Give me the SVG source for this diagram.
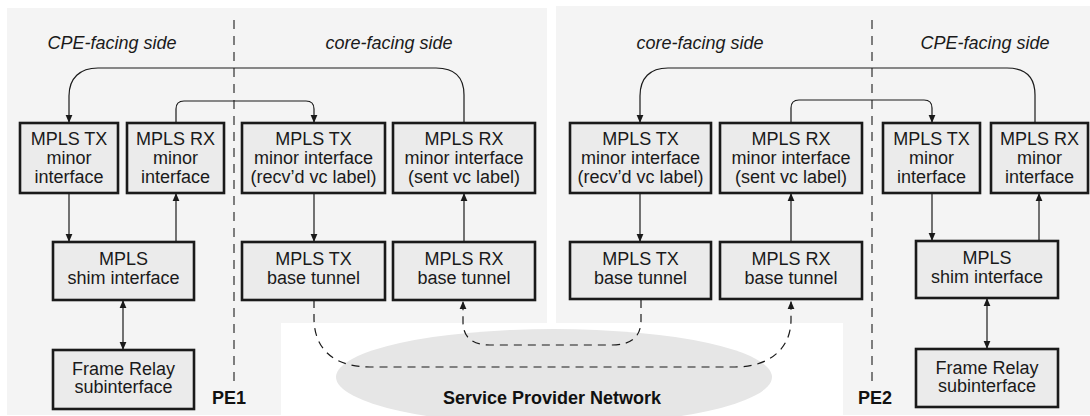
<svg xmlns="http://www.w3.org/2000/svg" width="1090" height="416" viewBox="0 0 1090 416">
<style>
.bg{fill:#f4f4f4}
.box{fill:#ebebeb;stroke:#1a1a1a;stroke-width:2.6}
.t{font-family:"Liberation Sans",Arial,sans-serif;font-size:18px;fill:#1a1a1a;text-anchor:middle}
.side{font-family:"Liberation Sans",Arial,sans-serif;font-size:18px;font-style:italic;fill:#1a1a1a;text-anchor:middle}
.b{font-family:"Liberation Sans",Arial,sans-serif;font-size:18px;font-weight:bold;fill:#111;text-anchor:middle}
.c{fill:none;stroke:#1a1a1a;stroke-width:1.2}
.d{fill:none;stroke:#1a1a1a;stroke-width:1.2;stroke-dasharray:8 6}
.div{fill:none;stroke:#555;stroke-width:1.5;stroke-dasharray:9 7}
</style>
<defs>
<marker id="ah" viewBox="0 0 10 10" refX="10" refY="5" markerWidth="8" markerHeight="8" markerUnits="userSpaceOnUse" orient="auto-start-reverse">
<path d="M0,0.8 L10,5 L0,9.2 Z" fill="#1a1a1a"/>
</marker>
</defs>
<g id="background">
<rect class="bg" x="7" y="8" width="540" height="407"/>
<rect class="bg" x="556" y="6" width="534" height="409"/>
<rect x="281" y="323" width="562" height="93" fill="#ffffff"/>
<ellipse cx="554" cy="377" rx="218" ry="48" fill="#e6e6e6"/>
<line class="div" x1="234" y1="20" x2="234" y2="382"/>
<line class="div" x1="872" y1="20" x2="872" y2="382"/>
<text class="side" x="112" y="49">CPE-facing side</text>
<text class="side" x="389" y="49">core-facing side</text>
<text class="side" x="700" y="49">core-facing side</text>
<text class="side" x="985" y="49">CPE-facing side</text>
<text class="b" x="229" y="404">PE1</text>
<text class="b" x="875" y="404">PE2</text>
<text class="b" x="552" y="404">Service Provider Network</text>
</g>
<g id="connectors">
<path class="c" d="M464,123 L464,95 C464,77 454,68 436,68 L98,68 C80,68 69,78 69,96 L69,123" marker-end="url(#ah)"/>
<path class="c" d="M176,123 L176,109 C176,104 179,101 184,101 L306,101 C311,101 314,104 314,109 L314,123" marker-end="url(#ah)"/>
<path class="c" d="M69,193 L69,242" marker-end="url(#ah)"/>
<path class="c" d="M176,242 L176,193" marker-end="url(#ah)"/>
<path class="c" d="M314,193 L314,242" marker-end="url(#ah)"/>
<path class="c" d="M464,242 L464,193" marker-end="url(#ah)"/>
<path class="c" d="M123,300 L123,350" marker-start="url(#ah)" marker-end="url(#ah)"/>
<path class="c" d="M1035,123 L1035,95 C1035,77 1025,68 1007,68 L668,68 C650,68 640,78 640,96 L640,123" marker-end="url(#ah)"/>
<path class="c" d="M791,123 L791,108 C791,103 794,100 799,100 L924,100 C929,100 932,103 932,108 L932,123" marker-end="url(#ah)"/>
<path class="c" d="M640,193 L640,242" marker-end="url(#ah)"/>
<path class="c" d="M791,242 L791,193" marker-end="url(#ah)"/>
<path class="c" d="M932,193 L932,241" marker-end="url(#ah)"/>
<path class="c" d="M1039,241 L1039,193" marker-end="url(#ah)"/>
<path class="c" d="M987,298 L987,349" marker-start="url(#ah)" marker-end="url(#ah)"/>
<path class="d" d="M314,300 L314,318 C314,350 335,367 370,367 L735,367 C770,367 791,348 791,320 L791,301" marker-end="url(#ah)"/>
<path class="d" d="M641,300 L641,320 C641,338 630,345 612,345 L490,345 C472,345 463,337 463,322 L463,301" marker-end="url(#ah)"/>
</g>
<g id="pe1-tx-minor"><rect class="box" x="20" y="123" width="98" height="70"/><text class="t" x="69" y="145">MPLS TX</text><text class="t" x="69" y="164">minor</text><text class="t" x="69" y="183">interface</text></g>
<g id="pe1-rx-minor"><rect class="box" x="127" y="123" width="97" height="70"/><text class="t" x="175.5" y="145">MPLS RX</text><text class="t" x="175.5" y="164">minor</text><text class="t" x="175.5" y="183">interface</text></g>
<g id="pe1-tx-minor-core"><rect class="box" x="242" y="123" width="143" height="70"/><text class="t" x="313.5" y="145">MPLS TX</text><text class="t" x="313.5" y="164">minor interface</text><text class="t" x="313.5" y="183">(recv’d vc label)</text></g>
<g id="pe1-rx-minor-core"><rect class="box" x="393" y="123" width="142" height="70"/><text class="t" x="464" y="145">MPLS RX</text><text class="t" x="464" y="164">minor interface</text><text class="t" x="464" y="183">(sent vc label)</text></g>
<g id="pe1-shim"><rect class="box" x="53" y="242" width="141" height="58"/><text class="t" x="123.5" y="265">MPLS</text><text class="t" x="123.5" y="284">shim interface</text></g>
<g id="pe1-tx-base"><rect class="box" x="242" y="242" width="143" height="58"/><text class="t" x="313.5" y="265">MPLS TX</text><text class="t" x="313.5" y="284">base tunnel</text></g>
<g id="pe1-rx-base"><rect class="box" x="393" y="242" width="142" height="58"/><text class="t" x="464" y="265">MPLS RX</text><text class="t" x="464" y="284">base tunnel</text></g>
<g id="pe1-fr"><rect class="box" x="53" y="350" width="141" height="59"/><text class="t" x="123.5" y="375">Frame Relay</text><text class="t" x="123.5" y="393">subinterface</text></g>
<g id="pe2-tx-minor-core"><rect class="box" x="570" y="123" width="141" height="70"/><text class="t" x="640.5" y="145">MPLS TX</text><text class="t" x="640.5" y="164">minor interface</text><text class="t" x="640.5" y="183">(recv’d vc label)</text></g>
<g id="pe2-rx-minor-core"><rect class="box" x="720" y="123" width="142" height="70"/><text class="t" x="791" y="145">MPLS RX</text><text class="t" x="791" y="164">minor interface</text><text class="t" x="791" y="183">(sent vc label)</text></g>
<g id="pe2-tx-minor"><rect class="box" x="883" y="123" width="97" height="70"/><text class="t" x="931.5" y="145">MPLS TX</text><text class="t" x="931.5" y="164">minor</text><text class="t" x="931.5" y="183">interface</text></g>
<g id="pe2-rx-minor"><rect class="box" x="991" y="123" width="97" height="70"/><text class="t" x="1039.5" y="145">MPLS RX</text><text class="t" x="1039.5" y="164">minor</text><text class="t" x="1039.5" y="183">interface</text></g>
<g id="pe2-tx-base"><rect class="box" x="570" y="242" width="141" height="57"/><text class="t" x="640.5" y="265">MPLS TX</text><text class="t" x="640.5" y="284">base tunnel</text></g>
<g id="pe2-rx-base"><rect class="box" x="720" y="242" width="142" height="57"/><text class="t" x="791" y="265">MPLS RX</text><text class="t" x="791" y="284">base tunnel</text></g>
<g id="pe2-shim"><rect class="box" x="916" y="241" width="142" height="57"/><text class="t" x="987" y="264">MPLS</text><text class="t" x="987" y="283">shim interface</text></g>
<g id="pe2-fr"><rect class="box" x="916" y="349" width="142" height="58"/><text class="t" x="987" y="374">Frame Relay</text><text class="t" x="987" y="392">subinterface</text></g>
</svg>
